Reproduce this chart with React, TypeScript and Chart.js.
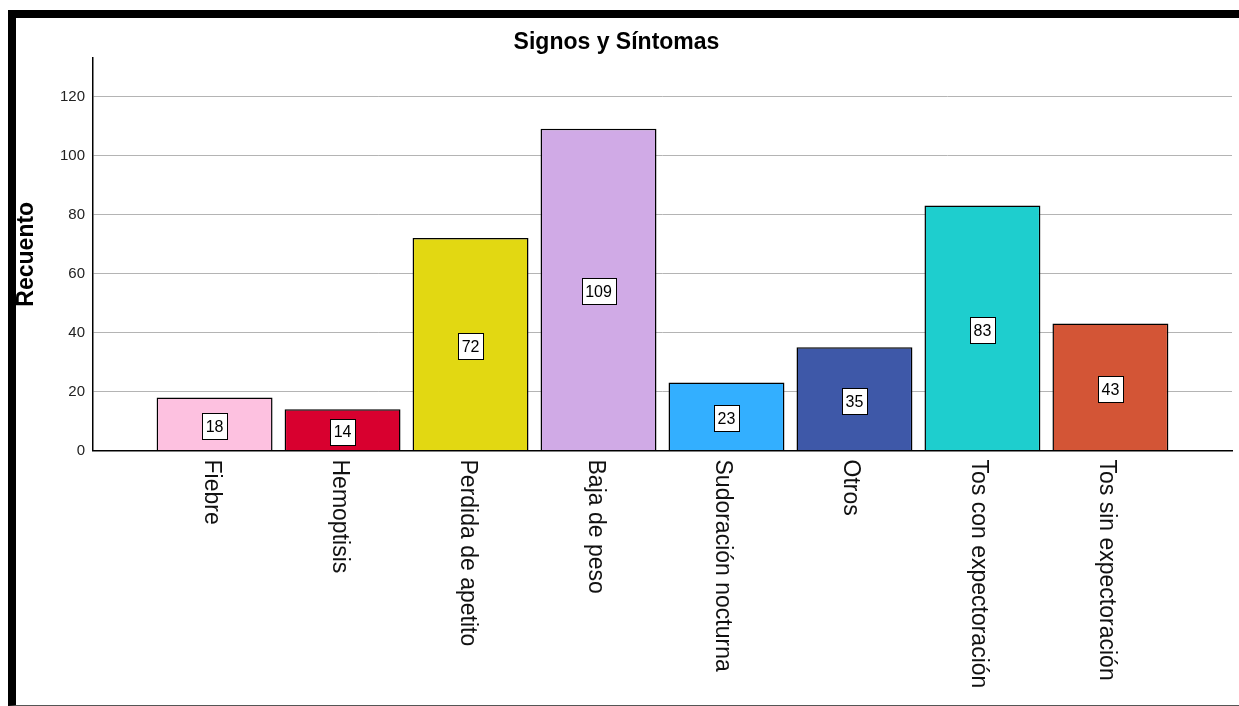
import React, { useEffect, useRef } from 'react';
import { Chart, registerables } from 'chart.js';

Chart.register(...registerables);

const chartTitle = 'Signos y Síntomas';
const yAxisTitle = 'Recuento';
const categories = [
  'Fiebre',
  'Hemoptisis',
  'Perdida de apetito',
  'Baja de peso',
  'Sudoración nocturna',
  'Otros',
  'Tos con expectoración',
  'Tos sin expectoración',
];
const counts = [18, 14, 72, 109, 23, 35, 83, 43];
const barColors = ['#FDC1E0', '#D8002F', '#E2D812', '#D0AAE6', '#33AFFF', '#3E58A8', '#1ECECE', '#D35536'];
const yTicks = [0, 20, 40, 60, 80, 100, 120];

const FONT = '"Liberation Sans", Arial, sans-serif';

const annotatePlugin = {
  id: 'annotate',
  afterDraw(chart: any) {
    const ctx = chart.ctx as CanvasRenderingContext2D;
    const xs = chart.scales.x;
    ctx.save();
    // chart title
    ctx.font = `bold 23px ${FONT}`;
    ctx.fillStyle = '#000';
    ctx.textAlign = 'center';
    ctx.textBaseline = 'alphabetic';
    ctx.fillText(chartTitle, 600.5, 31);

    // category labels, rotated clockwise
    ctx.font = `23px ${FONT}`;
    ctx.fillStyle = '#111';
    ctx.textAlign = 'left';
    ctx.textBaseline = 'alphabetic';
    categories.forEach((c, i) => {
      const px = xs.getPixelForValue(i);
      ctx.save();
      ctx.translate(px - 10, xs.top + 9);
      ctx.rotate(Math.PI / 2);
      ctx.fillText(c, 0, 0);
      ctx.restore();
    });

    // value labels in boxes
    const meta = chart.getDatasetMeta(0);
    ctx.font = `16px ${FONT}`;
    ctx.textAlign = 'center';
    ctx.textBaseline = 'middle';
    meta.data.forEach((bar: any, i: number) => {
      const { x: bx, y: by, base } = bar.getProps(['x', 'y', 'base'], true);
      const cy = (by + base) / 2 + 2;
      const label = String(counts[i]);
      const w = Math.round(ctx.measureText(label).width + 7);
      const h = 26;
      const left = Math.round(bx - w / 2);
      const top = Math.round(cy - h / 2);
      ctx.fillStyle = '#fff';
      ctx.fillRect(left, top, w, h);
      ctx.strokeStyle = '#000';
      ctx.lineWidth = 1;
      ctx.strokeRect(left + 0.5, top + 0.5, w, h);
      ctx.fillStyle = '#000';
      ctx.fillText(label, bx, cy + 1.5);
    });
    ctx.restore();
  },
};

export default function App() {
  const canvasRef = useRef<HTMLCanvasElement | null>(null);

  useEffect(() => {
    const canvas = canvasRef.current;
    if (!canvas) return;
    const chart = new Chart(canvas, {
      type: 'bar',
      data: {
        datasets: [
          {
            label: yAxisTitle,
            data: counts.map((v, i) => ({ x: i, y: v })),
            backgroundColor: barColors,
            borderColor: '#000',
            borderWidth: 1.5,
            barPercentage: 0.906,
            categoryPercentage: 1,
          },
        ],
      },
      options: {
        animation: false,
        responsive: false,
        devicePixelRatio: 1,
        layout: { padding: { top: 40, right: 7, left: 0, bottom: 0 } },
        plugins: {
          legend: { display: false },
          tooltip: { enabled: false },
          title: { display: false },
        },
        scales: {
          x: {
            type: 'linear',
            min: -0.95,
            max: 7.95,
            offset: false,
            grid: { display: false },
            ticks: { display: false },
            border: { display: true, color: '#000', width: 1.5 },
            afterBuildTicks: (s: any) => {
              s.ticks = categories.map((_, i) => ({ value: i }));
            },
            afterFit: (s: any) => {
              s.height = 254.5;
            },
          },
          y: {
            type: 'linear',
            min: 0,
            max: 133,
            afterBuildTicks: (s: any) => {
              s.ticks = yTicks.map((v) => ({ value: v }));
            },
            ticks: {
              color: '#222',
              font: { family: FONT, size: 15 },
              padding: 8,
            },
            grid: {
              color: (c: any) => (c.tick && c.tick.value === 0 ? 'rgba(0,0,0,0)' : '#b4b4b4'),
              lineWidth: 1,
              drawTicks: false,
            },
            border: { display: true, color: '#000', width: 1.5 },
            title: {
              display: true,
              text: yAxisTitle,
              color: '#000',
              font: { family: FONT, size: 23, weight: 'bold', lineHeight: 0.96 },
              padding: 0,
            },
            afterFit: (s: any) => {
              s.width = 77;
            },
          },
        },
      },
      plugins: [annotatePlugin],
    } as any);
    return () => chart.destroy();
  }, []);

  return (
    <div
      style={{
        position: 'fixed',
        left: 8,
        top: 10,
        width: 1231,
        height: 696,
        boxSizing: 'border-box',
        borderTop: '8px solid #000',
        borderLeft: '8px solid #000',
        borderBottom: '1px solid #555',
        background: '#fff',
      }}
    >
      <canvas ref={canvasRef} width={1223} height={687} style={{ display: 'block', width: 1223, height: 687 }} />
    </div>
  );
}
